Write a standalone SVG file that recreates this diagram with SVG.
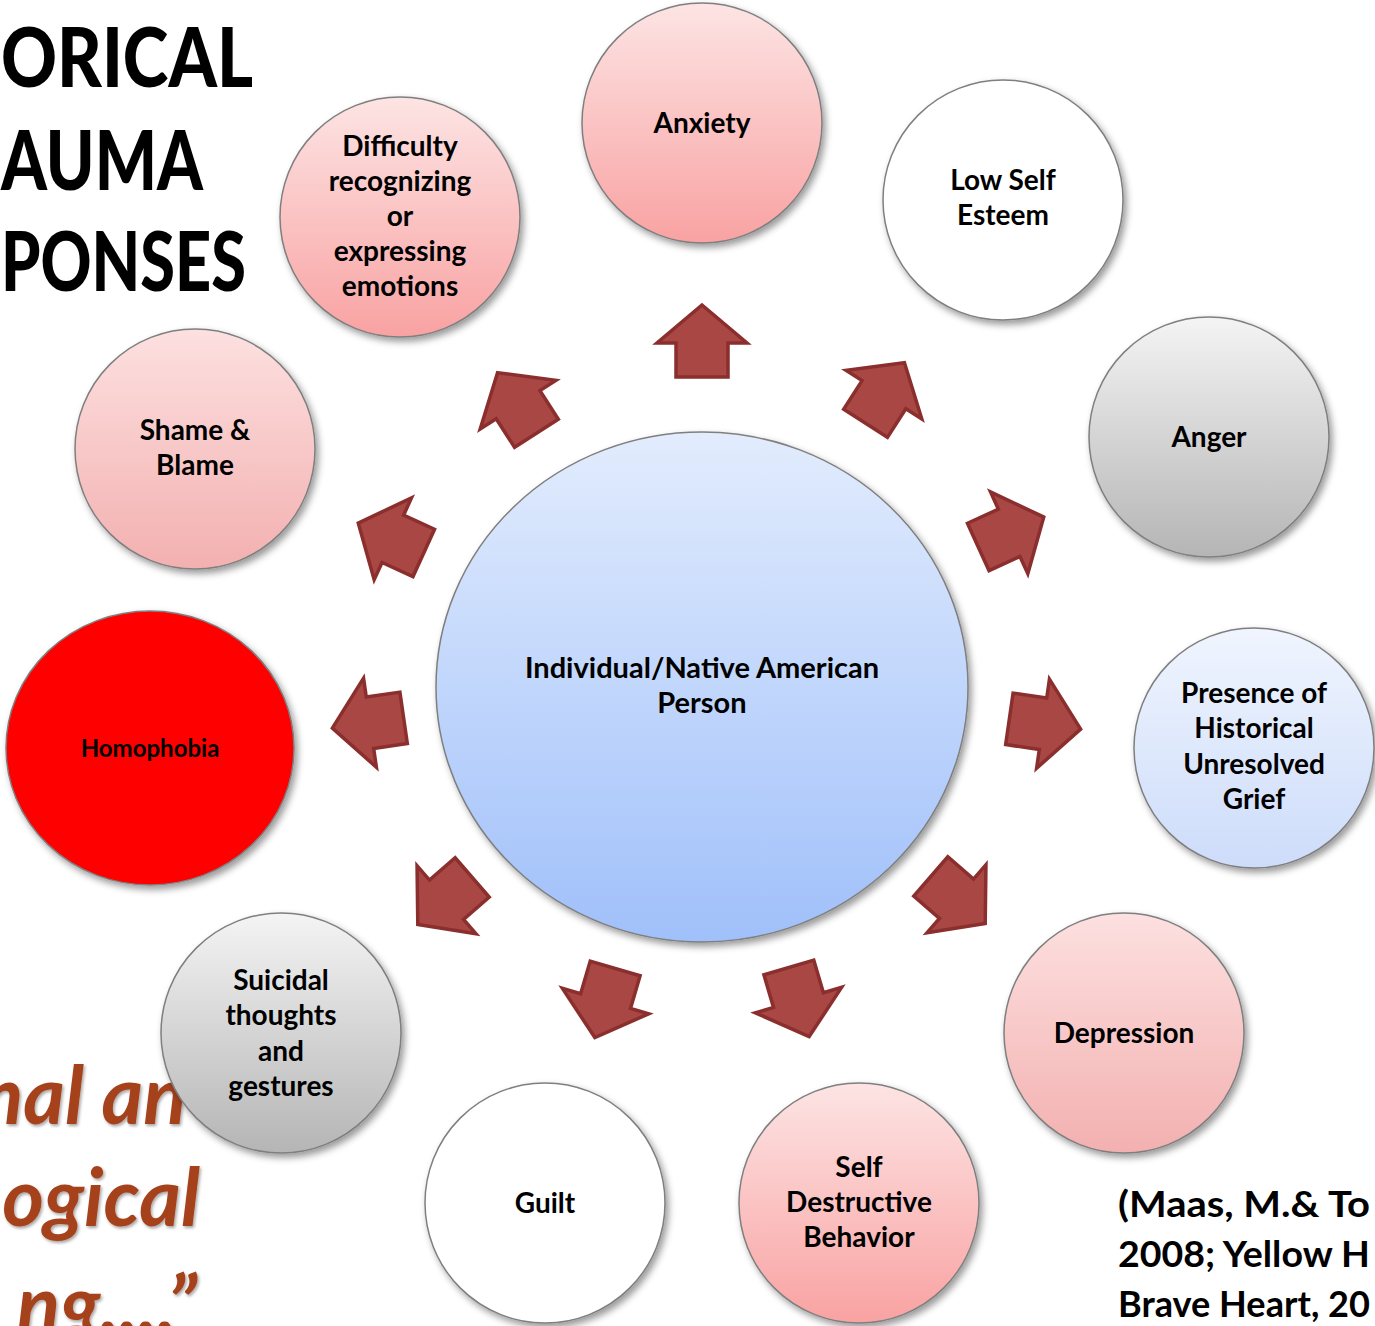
<svg xmlns="http://www.w3.org/2000/svg" width="1375" height="1326" viewBox="0 0 1375 1326">
<style>
.lbl{font-family:Lato,"Open Sans","Liberation Sans",sans-serif;font-weight:700;font-size:28px;fill:#000;text-anchor:middle}
.title{font-family:Lato,"Open Sans","Liberation Sans",sans-serif;font-weight:900;font-size:82px;fill:#000}
.quote{font-family:Lato,"Open Sans","Liberation Sans",sans-serif;font-weight:700;font-style:italic;font-size:80px;fill:#a5421c}
.cite{font-family:Lato,"Open Sans","Liberation Sans",sans-serif;font-weight:700;font-size:37px;fill:#000}
.node{stroke:#7f7f7f;stroke-width:1.5;filter:url(#sh)}
.arrow{fill:#a94744;stroke:#8a2f2d;stroke-width:3.5;stroke-linejoin:miter}
</style>
<defs>
<filter id="sh" x="-20%" y="-20%" width="140%" height="140%">
<feDropShadow dx="3" dy="4" stdDeviation="3.5" flood-color="#000" flood-opacity="0.4"/>
</filter>
<filter id="tsh" x="-10%" y="-10%" width="120%" height="130%">
<feDropShadow dx="1.5" dy="2" stdDeviation="1.5" flood-color="#000" flood-opacity="0.35"/>
</filter>
<linearGradient id="gPink" x1="0" y1="0" x2="0" y2="1">
<stop offset="0" stop-color="#fde4e4"/><stop offset="1" stop-color="#f9a2a2"/>
</linearGradient>
<linearGradient id="gPink2" x1="0" y1="0" x2="0" y2="1">
<stop offset="0" stop-color="#fde0e0"/><stop offset="1" stop-color="#f3b0b0"/>
</linearGradient>
<linearGradient id="gGray" x1="0" y1="0" x2="0" y2="1">
<stop offset="0" stop-color="#f4f4f4"/><stop offset="1" stop-color="#b5b5b5"/>
</linearGradient>
<linearGradient id="gBlue" x1="0" y1="0" x2="0" y2="1">
<stop offset="0" stop-color="#e2ecfd"/><stop offset="1" stop-color="#a0c0fa"/>
</linearGradient>
<linearGradient id="gBlueL" x1="0" y1="0" x2="0" y2="1">
<stop offset="0" stop-color="#f0f5fe"/><stop offset="1" stop-color="#cddcfa"/>
</linearGradient>
<polygon id="arr" points="0,-36 45,2 26,2 26,36 -26,36 -26,2 -45,2"/>
</defs>
<rect width="1375" height="1326" fill="#fff"/>

<g id="title">
<text class="title" x="1" y="87" textLength="252" lengthAdjust="spacingAndGlyphs">ORICAL</text>
<text class="title" x="1" y="190" textLength="202" lengthAdjust="spacingAndGlyphs">AUMA</text>
<text class="title" x="1" y="291" textLength="245" lengthAdjust="spacingAndGlyphs">PONSES</text>
</g>

<g id="quote" filter="url(#tsh)">
<text class="quote" x="-20" y="1124">nal an</text>
<text class="quote" x="200" y="1226" text-anchor="end">ogical</text>
<text class="quote" x="197" y="1333" text-anchor="end">ng....”</text>
</g>

<g id="citation">
<text class="cite" x="1118" y="1217" textLength="252" lengthAdjust="spacingAndGlyphs">(Maas, M.&amp; To</text>
<text class="cite" x="1118" y="1267" textLength="252" lengthAdjust="spacingAndGlyphs">2008; Yellow H</text>
<text class="cite" x="1118" y="1317" textLength="252" lengthAdjust="spacingAndGlyphs">Brave Heart, 20</text>
</g>

<g id="connectors">
<use href="#arr" class="arrow" transform="translate(702,341) rotate(0)"/>
<use href="#arr" class="arrow" transform="translate(885,393) rotate(32.7)"/>
<use href="#arr" class="arrow" transform="translate(1011,532) rotate(65.5)"/>
<use href="#arr" class="arrow" transform="translate(1045,724) rotate(98.2)"/>
<use href="#arr" class="arrow" transform="translate(958,900) rotate(130.9)"/>
<use href="#arr" class="arrow" transform="translate(799,1002) rotate(163.6)"/>
<use href="#arr" class="arrow" transform="translate(605,1003) rotate(196.4)"/>
<use href="#arr" class="arrow" transform="translate(445,901) rotate(229.1)"/>
<use href="#arr" class="arrow" transform="translate(368,723) rotate(261.8)"/>
<use href="#arr" class="arrow" transform="translate(391,538) rotate(294.5)"/>
<use href="#arr" class="arrow" transform="translate(517,403) rotate(327.3)"/>
</g>

<g id="center">
<ellipse class="node" cx="702" cy="687" rx="266" ry="255" fill="url(#gBlue)"/>
<text class="lbl" x="702" y="678" style="font-size:29px">Individual/Native American</text>
<text class="lbl" x="702" y="713" style="font-size:29px">Person</text>
</g>

<g id="anxiety">
<circle class="node" cx="702" cy="123" r="120" fill="url(#gPink)"/>
<text class="lbl" x="702" y="133">Anxiety</text>
</g>

<g id="low-self-esteem">
<circle class="node" cx="1003" cy="200" r="120" fill="#fff"/>
<text class="lbl" x="1003" y="190">Low Self</text>
<text class="lbl" x="1003" y="225">Esteem</text>
</g>

<g id="anger">
<circle class="node" cx="1209" cy="437" r="120" fill="url(#gGray)"/>
<text class="lbl" x="1209" y="447">Anger</text>
</g>

<g id="grief">
<circle class="node" cx="1254" cy="748" r="120" fill="url(#gBlueL)"/>
<text class="lbl" x="1254" y="703">Presence of</text>
<text class="lbl" x="1254" y="738">Historical</text>
<text class="lbl" x="1254" y="774">Unresolved</text>
<text class="lbl" x="1254" y="809">Grief</text>
</g>

<g id="depression">
<circle class="node" cx="1124" cy="1033" r="120" fill="url(#gPink2)"/>
<text class="lbl" x="1124" y="1043">Depression</text>
</g>

<g id="self-destructive">
<circle class="node" cx="859" cy="1203" r="120" fill="url(#gPink)"/>
<text class="lbl" x="859" y="1177">Self</text>
<text class="lbl" x="859" y="1212">Destructive</text>
<text class="lbl" x="859" y="1247">Behavior</text>
</g>

<g id="guilt">
<circle class="node" cx="545" cy="1203" r="120" fill="#fff"/>
<text class="lbl" x="545" y="1213">Guilt</text>
</g>

<g id="suicidal">
<circle class="node" cx="281" cy="1033" r="120" fill="url(#gGray)"/>
<text class="lbl" x="281" y="990">Suicidal</text>
<text class="lbl" x="281" y="1025">thoughts</text>
<text class="lbl" x="281" y="1061">and</text>
<text class="lbl" x="281" y="1096">gestures</text>
</g>

<g id="homophobia">
<ellipse class="node" cx="150" cy="748" rx="144" ry="137" fill="#ff0000" stroke="#5a1a1a"/>
<text class="lbl" x="150" y="757" style="font-size:24px">Homophobia</text>
</g>

<g id="shame-blame">
<circle class="node" cx="195" cy="449" r="120" fill="url(#gPink2)"/>
<text class="lbl" x="195" y="440">Shame &amp;</text>
<text class="lbl" x="195" y="475">Blame</text>
</g>

<g id="difficulty">
<circle class="node" cx="400" cy="217" r="120" fill="url(#gPink)"/>
<text class="lbl" x="400" y="156">Difficulty</text>
<text class="lbl" x="400" y="191">recognizing</text>
<text class="lbl" x="400" y="226">or</text>
<text class="lbl" x="400" y="261">expressing</text>
<text class="lbl" x="400" y="296">emotions</text>
</g>
</svg>
